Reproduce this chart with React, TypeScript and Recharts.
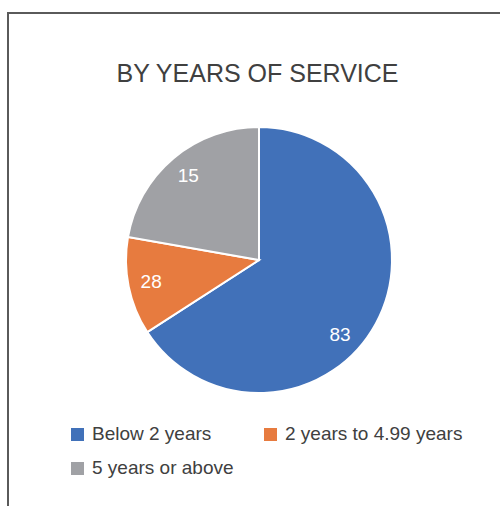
import { PieChart, Pie, Cell, Legend } from 'recharts';

// slice sizes; the printed labels in the
// original don't match the slices (orange says 28, grey says 15)
const categories = ['Below 2 years', '2 years to 4.99 years', '5 years or above'];
const values = [83, 15, 28];
const shownLabels = ['83', '28', '15'];

const COLORS = ['#4171B9', '#E77B3F', '#A0A1A5'];
const FONT = '"Liberation Sans", Arial, Helvetica, sans-serif';

const data = categories.map((name, i) => ({ name, value: values[i], label: shownLabels[i] }));

const RAD = Math.PI / 180;

const renderLabel = (props: any) => {
  const { cx, cy, midAngle, index, percent } = props;
  const r = 110;
  // big slices get their label pulled a bit towards the end of the slice, like Excel's best fit
  const angle = percent > 0.5 ? midAngle - 14 : midAngle;
  const x = cx + r * Math.cos(-angle * RAD);
  const y = cy + r * Math.sin(-angle * RAD);
  return (
    <text x={x} y={y} fill="#fff" fontSize={19} fontFamily={FONT} textAnchor="middle" dominantBaseline="central">
      {shownLabels[index]}
    </text>
  );
};

const renderLegend = () => (
  <div
    style={{
      display: 'grid',
      gridTemplateColumns: '193px 220px',
      paddingLeft: 71,
      fontFamily: FONT,
      fontSize: 19,
      lineHeight: '34px',
      color: '#404040',
    }}
  >
    {data.map((item, index) => (
      <div key={index} style={{ display: 'flex', alignItems: 'center', whiteSpace: 'nowrap' }}>
        <span style={{ width: 13, height: 13, background: COLORS[index], marginRight: 8, flexShrink: 0 }} />
        <span>{item.name}</span>
      </div>
    ))}
  </div>
);

export default function App() {
  return (
    <div style={{ position: 'absolute', left: 0, top: 0, width: 500, height: 506, background: '#fff', overflow: 'hidden' }}>
      {/* frame: only top and left edges are visible */}
      <div
        style={{
          position: 'absolute',
          left: 7,
          top: 12,
          width: 500,
          height: 500,
          borderTop: '2px solid #5a5a5a',
          borderLeft: '2px solid #5a5a5a',
        }}
      />
      <div
        style={{
          position: 'absolute',
          left: 0,
          top: 61,
          width: 515,
          textAlign: 'center',
          fontFamily: FONT,
          fontSize: 25,
          lineHeight: '25px',
          color: '#404040',
        }}
      >
        BY YEARS OF SERVICE
      </div>
      <div style={{ position: 'absolute', left: 0, top: 0 }}>
        <PieChart width={500} height={506} margin={{ top: 0, right: 0, bottom: 0, left: 0 }}>
          <Pie
            data={data}
            dataKey="value"
            cx={259}
            cy={260}
            outerRadius={133}
            startAngle={90}
            endAngle={-270}
            stroke="#fff"
            strokeWidth={2}
            labelLine={false}
            label={renderLabel}
            isAnimationActive={false}
          >
            {data.map((entry, index) => (
              <Cell key={`cell-${index}`} fill={COLORS[index]} />
            ))}
          </Pie>
          <Legend content={renderLegend} wrapperStyle={{ left: 0, top: 417, width: 500, bottom: 'auto' }} />
        </PieChart>
      </div>
    </div>
  );
}
